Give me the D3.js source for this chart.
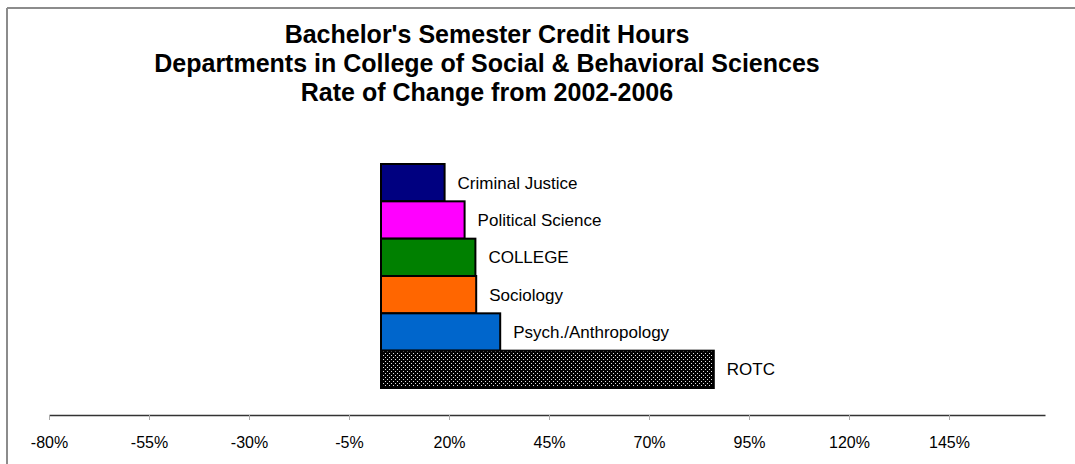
<!DOCTYPE html>
<html><head><meta charset="utf-8">
<script src="https://cdn.jsdelivr.net/npm/d3@7"></script>
<style>body{margin:0;background:#fff;}svg{display:block;font-family:Arial,"Liberation Sans",sans-serif;}</style>
</head><body>
<svg id="c" width="1075" height="464"></svg>
<script>
const categories = ["Criminal Justice","Political Science","COLLEGE","Sociology","Psych./Anthropology","ROTC"];
const values = [18.9, 23.9, 26.6, 26.8, 32.8, 86.2];
const baseValue = 3;
const colors = ["#000080","#FF00FF","#008000","#FF6600","#0066CC","url(#dots)"];
const tickValues = [-80,-55,-30,-5,20,45,70,95,120,145];
const titleLines = ["Bachelor's Semester Credit Hours","Departments in College of Social & Behavioral Sciences","Rate of Change from 2002-2006"];

const svg = d3.select("#c");
const defs = svg.append("defs");
const pat = defs.append("pattern").attr("id","dots").attr("patternUnits","userSpaceOnUse").attr("width",4).attr("height",4);
pat.append("rect").attr("width",4).attr("height",4).attr("fill","#000");
pat.append("rect").attr("x",1).attr("y",1).attr("width",1).attr("height",1).attr("fill","#e0e0e0");
pat.append("rect").attr("x",3).attr("y",3).attr("width",1).attr("height",1).attr("fill","#e0e0e0");

// border
svg.append("line").attr("x1",7).attr("x2",1075).attr("y1",8).attr("y2",8).attr("stroke","#8c8c8c").attr("stroke-width",2);
svg.append("line").attr("x1",7).attr("x2",7).attr("y1",8).attr("y2",464).attr("stroke","#8c8c8c").attr("stroke-width",2);

// title
svg.append("g").selectAll("text").data(titleLines).join("text")
  .attr("x",487).attr("y",(d,i)=>43+i*29)
  .attr("text-anchor","middle").attr("font-weight","bold").attr("font-size",25).attr("fill","#000")
  .text(d=>d);

const x = d3.scaleLinear().domain([-80,169]).range([49,1045]);
const y = d3.scaleBand().domain(categories).range([164,388]).padding(0);

svg.append("g").selectAll("rect").data(categories).join("rect")
  .attr("x",x(baseValue)).attr("y",d=>y(d))
  .attr("width",(d,i)=>x(values[i])-x(baseValue)).attr("height",y.bandwidth())
  .attr("fill",(d,i)=>colors[i]).attr("stroke","#000").attr("stroke-width",2);

svg.append("g").selectAll("text").data(categories).join("text")
  .attr("x",(d,i)=>x(values[i])+13).attr("y",d=>y(d)+y.bandwidth()/2)
  .attr("dy","0.35em").attr("font-size",17).attr("fill","#000").text(d=>d);

// axis
const ax = svg.append("g").attr("transform","translate(0,415)")
  .call(d3.axisBottom(x).tickValues(tickValues).tickFormat(d=>d+"%").tickSize(5).tickPadding(17).tickSizeOuter(0));
ax.select(".domain").attr("stroke","#333").attr("stroke-width",1.5);
ax.selectAll(".tick line").attr("stroke","#aaa");
ax.selectAll(".tick text").attr("font-size",16).attr("font-family","Arial,'Liberation Sans',sans-serif").attr("fill","#000");
</script>
</body></html>
